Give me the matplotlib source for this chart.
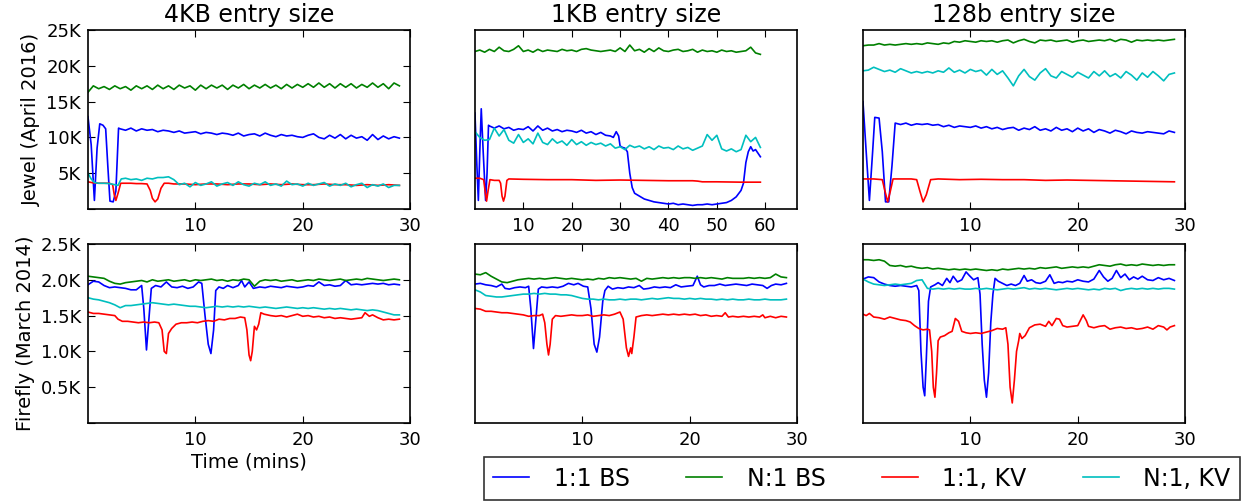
import numpy as np
import matplotlib
matplotlib.use("Agg")
import matplotlib.pyplot as plt
from matplotlib.ticker import FuncFormatter

# all throughput values are in thousands (K) of ops, time in minutes
COLS = ["4KB entry size", "1KB entry size", "128b entry size"]
ROWS = ["Jewel (April 2016)", "Firefly (March 2014)"]
LABELS = ["1:1 BS", "N:1 BS", "1:1, KV", "N:1, KV"]
COLORS = ["b", "g", "r", "c"]

# ---------------- Jewel, 4KB ----------------
J4_GREEN = [  # every 0.5 min from 0
    16.3, 17.2, 16.8, 17.1, 16.7, 17.2, 16.8, 17.1, 16.6, 17.2,
    16.8, 17.2, 16.7, 17.3, 16.8, 17.2, 16.7, 17.3, 16.9, 17.2,
    16.6, 17.3, 16.8, 17.3, 16.9, 17.3, 16.7, 17.3, 16.9, 17.4,
    16.8, 17.3, 16.9, 17.4, 16.9, 17.3, 16.8, 17.4, 16.9, 17.4,
    17.0, 17.5, 17.0, 17.6, 17.0, 17.5, 16.9, 17.5, 17.0, 17.5,
    16.9, 17.4, 17.0, 17.6, 17.0, 17.5, 16.8, 17.6, 17.2,
]
J4_BLUE_HEAD = [(0, 12.9), (0.3, 9.0), (0.6, 1.2), (0.85, 8.5), (1.1, 11.9), (1.4, 11.7),
                (1.65, 11.2), (1.85, 6.0), (2.05, 1.1), (2.35, 1.0), (2.6, 2.5), (2.85, 11.3)]
J4_BLUE = [  # every 0.5 min from 3.0
    11.2, 11.0, 11.3, 10.9, 11.2, 11.0, 11.1, 10.8, 11.0, 10.9,
    10.7, 10.9, 10.6, 10.7, 10.8, 10.5, 10.7, 10.6, 10.4, 10.6,
    10.5, 10.3, 10.6, 10.2, 10.4, 10.5, 10.2, 10.6, 10.3, 10.1,
    10.4, 10.2, 10.3, 10.1, 10.0, 10.3, 10.5, 10.0, 9.8, 10.3,
    9.9, 10.4, 9.8, 10.3, 9.9, 10.1, 9.6, 10.4, 9.7, 10.2,
    9.8, 10.1, 9.9,
]
J4_RED = [(0, 3.8), (0.5, 3.65), (1, 3.6), (1.5, 3.6), (2.0, 3.6), (2.3, 3.4), (2.45, 2.0),
          (2.6, 1.2), (2.8, 2.2), (3.05, 3.6), (3.5, 3.6), (4, 3.6), (4.5, 3.55), (5, 3.55),
          (5.5, 3.5), (5.8, 2.6), (6.0, 1.5), (6.25, 1.0), (6.5, 1.4), (6.8, 2.9), (7.1, 3.6),
          (7.5, 3.6), (8, 3.5), (9, 3.5), (10, 3.4), (11, 3.5), (12, 3.5), (13, 3.4), (14, 3.5),
          (15, 3.5), (16, 3.4), (17, 3.5), (18, 3.4), (19, 3.5), (20, 3.4), (21, 3.4), (22, 3.5),
          (23, 3.4), (24, 3.4), (25, 3.3), (26, 3.4), (27, 3.3), (28, 3.4), (29, 3.3)]
J4_CYAN_HEAD = [(0, 5.0), (0.3, 4.2), (0.6, 3.7), (1.0, 3.6), (1.5, 3.6), (2.0, 3.55),
                (2.5, 3.4), (2.8, 3.3), (3.1, 4.2), (3.5, 4.3), (4.0, 4.1), (4.5, 4.2),
                (5.0, 4.0), (5.5, 4.3), (6.0, 4.2), (6.5, 4.4), (7.0, 4.4), (7.5, 4.5)]
J4_CYAN = [  # every 0.5 min from 8.0
    4.1, 3.4, 3.6, 3.1, 3.7, 3.3, 3.5, 3.8, 3.2, 3.5,
    3.7, 3.3, 3.8, 3.4, 3.2, 3.6, 3.4, 3.8, 3.3, 3.5,
    3.2, 3.9, 3.4, 3.5, 3.2, 3.6, 3.3, 3.5, 3.7, 3.2,
    3.5, 3.3, 3.6, 3.1, 3.4, 3.6, 3.0, 3.4, 3.2, 3.5,
    3.0, 3.3, 3.3,
]

# ---------------- Jewel, 1KB ----------------
J1_GREEN = [  # every 1 min from 0
    22.0, 22.2, 21.9, 22.3, 22.0, 22.6, 22.1, 22.0, 22.3, 22.8,
    22.0, 22.2, 21.9, 22.3, 22.0, 22.2, 22.1, 22.0, 22.3, 22.1,
    22.2, 22.0, 22.3, 22.4, 22.2, 22.1, 22.0, 22.1, 22.2, 22.0,
    22.5, 22.0, 22.9, 22.1, 22.3, 21.9, 22.4, 22.0, 22.5, 22.1,
    22.0, 22.2, 22.3, 22.0, 22.1, 22.3, 21.9, 22.2, 22.0, 22.1,
    21.9, 22.2, 22.0, 22.1, 21.9, 22.0, 22.1, 22.6, 21.8, 21.6,
]
J1_BLUE = [(0, 13.4), (0.4, 6.0), (0.7, 1.2), (1.0, 8.0), (1.3, 14.0), (1.7, 8.0), (2.2, 1.2),
           (2.5, 5.0), (2.8, 11.7), (3, 11.6), (4, 11.3), (5, 11.6), (6, 11.2), (7, 11.4),
           (8, 11.0), (9, 11.2), (10, 11.1), (11, 11.5), (12, 10.9), (13, 11.6), (14, 11.0),
           (15, 11.3), (16, 10.9), (17, 11.1), (18, 10.8), (19, 11.0), (20, 10.9), (21, 10.7),
           (22, 11.0), (23, 10.6), (24, 10.8), (25, 10.4), (26, 10.7), (27, 10.3), (28, 10.2),
           (28.6, 10.0), (29.2, 10.8), (29.7, 10.2), (30, 8.8), (30.5, 8.6), (31, 8.5),
           (31.5, 8.0), (32, 5.0), (32.5, 3.0), (33, 2.2), (34, 1.8), (35, 1.4), (36, 1.2),
           (37, 1.0), (38, 0.9), (39, 0.8), (40, 0.7), (41, 0.8), (42, 0.6), (43, 0.7),
           (44, 0.6), (45, 0.5), (46, 0.6), (47, 0.6), (48, 0.7), (49, 0.6), (50, 0.7),
           (51, 0.8), (52, 0.9), (53, 1.2), (54, 1.7), (55, 2.6), (55.5, 3.6), (56, 6.5),
           (56.5, 8.0), (57, 8.7), (57.5, 8.1), (58, 8.3), (58.5, 7.8), (59, 7.3)]
J1_RED = [(0, 4.3), (1.0, 4.3), (1.8, 4.1), (2.1, 2.5), (2.4, 1.1), (2.7, 2.5), (3.1, 4.1),
          (4, 4.0), (5, 4.0), (5.3, 3.6), (5.6, 1.8), (5.9, 1.1), (6.2, 1.8), (6.6, 4.0),
          (7, 4.2), (10, 4.15), (15, 4.1), (20, 4.1), (25, 4.0), (30, 4.05), (35, 4.0),
          (40, 3.95), (45, 3.95), (46, 3.9), (47, 3.8), (50, 3.8), (55, 3.75), (59, 3.75)]
J1_CYAN = [  # every 1 min from 0
    10.8, 10.0, 9.6, 9.7, 11.3, 10.2, 11.1, 9.6, 9.2, 10.4,
    9.3, 9.8, 9.1, 10.6, 9.3, 9.0, 9.8, 9.2, 9.5, 8.9,
    9.7, 9.0, 9.4, 8.9, 9.3, 9.0, 9.2, 8.8, 9.1, 8.5,
    8.7, 8.3, 8.9, 8.6, 8.8, 8.4, 8.7, 8.3, 8.8, 8.5,
    8.6, 8.3, 8.8, 8.4, 8.6, 8.2, 8.5, 8.8, 10.4, 9.6,
    10.3, 8.4, 8.1, 8.4, 8.0, 8.3, 10.3, 9.4, 10.0, 8.6,
]

# ---------------- Jewel, 128b ----------------
J128_GREEN = [  # every 0.5 min from 0
    22.8, 22.9, 22.9, 23.1, 22.9, 23.0, 22.9, 23.0, 23.1, 23.0,
    23.1, 23.0, 23.2, 23.1, 23.0, 23.2, 23.1, 23.4, 23.3, 23.5,
    23.4, 23.3, 23.5, 23.4, 23.5, 23.3, 23.5, 23.6, 23.2, 23.5,
    23.7, 23.4, 23.2, 23.6, 23.5, 23.6, 23.4, 23.5, 23.6, 23.3,
    23.5, 23.6, 23.4, 23.5, 23.6, 23.5, 23.7, 23.4, 23.7, 23.6,
    23.3, 23.6, 23.5, 23.6, 23.5, 23.6, 23.5, 23.6, 23.7,
]
J128_CYAN = [  # every 0.5 min from 0
    19.3, 19.4, 19.8, 19.5, 19.2, 19.4, 19.1, 19.6, 19.3, 19.0,
    19.2, 19.0, 19.2, 19.0, 19.3, 19.1, 19.7, 19.1, 19.4, 19.0,
    19.5, 19.2, 19.4, 18.7, 19.5, 18.8, 19.3, 18.3, 17.2, 18.6,
    19.5, 18.5, 18.0, 19.0, 19.6, 18.6, 18.3, 19.2, 18.8, 18.4,
    19.1, 18.7, 18.3, 19.2, 18.6, 19.3, 18.5, 18.9, 18.3, 19.2,
    18.7, 18.0, 19.0, 18.4, 19.2, 18.6, 17.9, 18.8, 19.0,
]
J128_BLUE_HEAD = [(0, 15.0), (0.3, 8.0), (0.6, 1.2), (0.9, 8.0), (1.1, 12.8), (1.5, 12.7),
                  (1.8, 8.0), (2.1, 1.0), (2.4, 1.0), (2.7, 6.0)]
J128_BLUE = [  # every 0.5 min from 3.0
    12.0, 11.8, 12.0, 11.7, 11.9, 11.8, 11.9, 11.7, 11.8, 11.5,
    11.7, 11.4, 11.6, 11.5, 11.4, 11.6, 11.3, 11.5, 11.2, 11.4,
    11.1, 11.3, 11.4, 11.0, 11.3, 11.1, 11.5, 11.0, 11.2, 10.9,
    11.4, 11.0, 11.2, 10.8, 11.3, 10.9, 11.2, 10.7, 11.1, 10.9,
    10.6, 11.0, 10.8, 10.5, 10.9, 10.7, 10.6, 10.8, 10.7, 10.6,
    10.5, 10.9, 10.7,
]
J128_RED = [(0, 4.2), (1.0, 4.2), (1.8, 4.1), (2.05, 2.5), (2.3, 1.0), (2.55, 2.5), (2.8, 4.2),
            (3.5, 4.2), (4.5, 4.2), (5.0, 4.1), (5.3, 2.5), (5.6, 1.0), (5.9, 2.0), (6.3, 4.1),
            (7, 4.2), (9, 4.1), (11, 4.15), (13, 4.1), (15, 4.1), (17, 4.0), (19, 4.05),
            (21, 4.0), (23, 3.95), (25, 3.9), (27, 3.85), (29, 3.8)]

# ---------------- Firefly, 4KB ----------------
F4_GREEN = [  # every 0.5 min from 0
    2.05, 2.04, 2.03, 2.02, 1.98, 1.95, 1.94, 1.96, 1.97, 1.98,
    1.99, 1.97, 2.00, 1.98, 1.99, 2.00, 1.98, 1.99, 2.00, 1.98,
    2.00, 1.99, 2.00, 2.01, 1.99, 2.00, 1.98, 2.00, 1.99, 2.01,
    2.00, 1.91, 1.98, 2.00, 1.99, 2.00, 1.98, 1.99, 2.00, 1.98,
    1.99, 2.00, 1.99, 2.01, 2.00, 1.99, 2.00, 2.01, 1.99, 2.00,
    2.01, 2.00, 2.02, 2.01, 2.00, 1.99, 2.00, 2.01, 2.00,
]
F4_BLUE = [(0, 1.93), (0.5, 1.98), (1, 1.97), (1.5, 1.92), (2, 1.89), (2.5, 1.90), (3, 1.89),
           (3.5, 1.88), (4, 1.86), (4.5, 1.86), (5, 1.92), (5.2, 1.6), (5.45, 1.02), (5.7, 1.5),
           (5.9, 1.88), (6.3, 1.92), (6.8, 1.90), (7.3, 1.97), (7.8, 1.90), (8.3, 1.89),
           (8.8, 1.91), (9.3, 1.88), (9.8, 1.90), (10.3, 1.97), (10.6, 1.95), (10.9, 1.5),
           (11.2, 1.1), (11.45, 0.97), (11.7, 1.3), (11.9, 1.85), (12.2, 1.9), (12.6, 1.88),
           (13, 1.92), (13.5, 1.89), (14, 1.92), (14.3, 1.99), (14.6, 1.9), (15, 1.97),
           (15.4, 1.88), (16, 1.90), (16.5, 1.89), (17, 1.91), (17.5, 1.90), (18, 1.89),
           (18.5, 1.91), (19, 1.90), (19.5, 1.89), (20, 1.90), (20.5, 1.92), (21, 1.91),
           (21.5, 1.97), (22, 1.92), (22.5, 1.93), (23, 1.91), (23.5, 1.92), (24, 1.99),
           (24.5, 1.93), (25, 1.94), (25.5, 1.93), (26, 1.94), (26.5, 1.95), (27, 1.94),
           (27.5, 1.95), (28, 1.93), (28.5, 1.94), (29, 1.93)]
F4_RED = [(0, 1.55), (0.5, 1.53), (1, 1.53), (1.5, 1.52), (2, 1.51), (2.5, 1.50), (2.8, 1.45),
          (3.2, 1.42), (3.7, 1.42), (4.2, 1.41), (4.7, 1.40), (5.2, 1.41), (5.7, 1.40),
          (6.2, 1.41), (6.6, 1.40), (6.9, 1.3), (7.1, 1.0), (7.3, 0.97), (7.5, 1.25),
          (7.8, 1.32), (8.2, 1.38), (8.7, 1.40), (9.2, 1.40), (9.7, 1.41), (10.2, 1.40),
          (10.7, 1.42), (11.2, 1.43), (11.7, 1.42), (12.2, 1.45), (12.7, 1.44), (13.2, 1.46),
          (13.7, 1.46), (14.2, 1.48), (14.6, 1.47), (14.8, 1.3), (15.0, 0.95), (15.15, 0.87),
          (15.3, 1.0), (15.5, 1.35), (15.7, 1.30), (15.9, 1.38), (16.1, 1.54), (16.4, 1.52),
          (17, 1.50), (17.5, 1.49), (18, 1.50), (18.5, 1.48), (19, 1.50), (19.5, 1.52),
          (20, 1.49), (20.5, 1.50), (21, 1.48), (21.5, 1.49), (22, 1.47), (22.5, 1.48),
          (23, 1.46), (23.5, 1.47), (24, 1.46), (24.5, 1.45), (25, 1.46), (25.5, 1.47),
          (25.8, 1.54), (26.2, 1.49), (26.5, 1.51), (27, 1.47), (27.5, 1.44), (28, 1.45),
          (28.5, 1.44), (29, 1.45)]
F4_CYAN = [  # every 0.5 min from 0
    1.75, 1.73, 1.72, 1.70, 1.68, 1.65, 1.61, 1.64, 1.64, 1.65,
    1.66, 1.67, 1.68, 1.67, 1.66, 1.65, 1.66, 1.65, 1.64, 1.63,
    1.63, 1.62, 1.61, 1.62, 1.63, 1.62, 1.63, 1.62, 1.63, 1.62,
    1.63, 1.62, 1.61, 1.62, 1.61, 1.60, 1.61, 1.62, 1.61, 1.60,
    1.61, 1.60, 1.61, 1.60, 1.59, 1.60, 1.59, 1.60, 1.59, 1.58,
    1.59, 1.58, 1.57, 1.58, 1.57, 1.55, 1.53, 1.51, 1.51,
]

# ---------------- Firefly, 1KB ----------------
F1_GREEN = [  # every 0.5 min from 0
    2.08, 2.07, 2.10, 2.05, 2.01, 1.97, 1.96, 1.98, 2.00, 2.01,
    2.02, 2.01, 2.02, 2.01, 2.02, 2.03, 2.02, 2.01, 2.02, 2.01,
    2.00, 2.01, 2.00, 2.02, 2.01, 2.03, 2.02, 2.03, 2.02, 2.01,
    2.02, 1.98, 2.02, 2.01, 2.02, 2.03, 2.02, 2.03, 2.02, 2.03,
    2.03, 2.02, 2.03, 2.02, 2.03, 2.02, 2.01, 2.03, 2.02, 2.02,
    2.02, 2.03, 2.02, 2.03, 2.02, 2.03, 2.08, 2.04, 2.03,
]
F1_BLUE = [(0, 1.94), (0.5, 1.95), (1, 1.93), (1.5, 1.92), (2, 1.90), (2.5, 1.94), (2.8, 1.88),
           (3.2, 1.87), (3.7, 1.89), (4.2, 1.90), (4.7, 1.89), (5.0, 1.91), (5.2, 1.6),
           (5.45, 1.04), (5.7, 1.5), (5.9, 1.87), (6.2, 1.90), (6.7, 1.89), (7.2, 1.90),
           (7.7, 1.89), (8.2, 1.91), (8.7, 1.95), (9.2, 1.93), (9.6, 1.95), (10.1, 1.91),
           (10.5, 1.90), (10.8, 1.6), (11.1, 1.1), (11.35, 0.99), (11.6, 1.2), (11.9, 1.7),
           (12.1, 1.85), (12.4, 1.91), (12.8, 1.87), (13.3, 1.89), (13.8, 1.88), (14.3, 1.90),
           (14.8, 1.89), (15.3, 1.92), (15.7, 1.87), (16.2, 1.88), (16.7, 1.90), (17.2, 1.89),
           (17.7, 1.90), (18.2, 1.89), (18.7, 1.93), (19.2, 1.90), (19.7, 1.91), (20.3, 1.92),
           (20.7, 2.05), (21.0, 1.93), (21.3, 1.90), (21.8, 1.92), (22.3, 1.92), (22.8, 1.94),
           (23.3, 1.92), (23.8, 1.93), (24.3, 1.94), (24.8, 1.93), (25.3, 1.92), (25.8, 1.94),
           (26.3, 1.93), (26.8, 1.92), (27.2, 1.88), (27.6, 1.92), (28.0, 1.94), (28.5, 1.93),
           (29, 1.95)]
F1_RED = [(0, 1.60), (0.5, 1.59), (1, 1.56), (1.5, 1.56), (2, 1.55), (2.5, 1.54), (3, 1.54),
          (3.5, 1.53), (4, 1.52), (4.5, 1.51), (5, 1.49), (5.5, 1.50), (6, 1.50), (6.3, 1.52),
          (6.5, 1.4), (6.7, 1.1), (6.85, 0.95), (7.0, 1.1), (7.2, 1.45), (7.5, 1.50),
          (8, 1.49), (8.5, 1.50), (9, 1.51), (9.5, 1.50), (10, 1.50), (10.5, 1.51), (11, 1.49),
          (11.5, 1.50), (12, 1.51), (12.5, 1.50), (13, 1.52), (13.5, 1.55), (13.8, 1.45),
          (14.1, 1.05), (14.3, 0.93), (14.5, 1.05), (14.6, 0.97), (14.8, 1.2), (15.0, 1.48),
          (15.5, 1.50), (16, 1.51), (16.5, 1.50), (17, 1.51), (17.5, 1.52), (18, 1.51),
          (18.5, 1.52), (19, 1.51), (19.5, 1.52), (20, 1.51), (20.5, 1.52), (21, 1.50),
          (21.5, 1.51), (22, 1.49), (22.5, 1.50), (23, 1.49), (23.3, 1.54), (23.6, 1.48),
          (24, 1.49), (24.5, 1.48), (25, 1.49), (25.5, 1.48), (26, 1.49), (26.5, 1.48),
          (26.8, 1.51), (27, 1.47), (27.5, 1.49), (28, 1.47), (28.5, 1.49), (29, 1.48)]
F1_CYAN = [  # every 0.5 min from 0
    1.86, 1.83, 1.78, 1.77, 1.76, 1.76, 1.77, 1.78, 1.79, 1.80,
    1.80, 1.81, 1.80, 1.81, 1.80, 1.80, 1.79, 1.79, 1.78, 1.76,
    1.74, 1.73, 1.73, 1.72, 1.73, 1.72, 1.72, 1.73, 1.72, 1.73,
    1.73, 1.72, 1.73, 1.74, 1.73, 1.74, 1.75, 1.74, 1.74, 1.73,
    1.74, 1.73, 1.74, 1.73, 1.73, 1.72, 1.73, 1.72, 1.73, 1.72,
    1.72, 1.73, 1.72, 1.72, 1.73, 1.72, 1.72, 1.72, 1.73,
]

# ---------------- Firefly, 128b ----------------
F128_GREEN = [  # every 0.5 min from 0
    2.28, 2.28, 2.27, 2.28, 2.26, 2.20, 2.19, 2.20, 2.18, 2.19,
    2.17, 2.16, 2.17, 2.15, 2.16, 2.15, 2.14, 2.15, 2.14, 2.15,
    2.14, 2.15, 2.14, 2.13, 2.14, 2.13, 2.15, 2.14, 2.15, 2.16,
    2.15, 2.16, 2.15, 2.17, 2.16, 2.17, 2.18, 2.16, 2.17, 2.18,
    2.17, 2.18, 2.17, 2.19, 2.21, 2.20, 2.19, 2.21, 2.22, 2.20,
    2.21, 2.20, 2.22, 2.21, 2.20, 2.21, 2.20, 2.21, 2.21,
]
F128_BLUE = [(0, 2.01), (0.5, 2.04), (1, 2.03), (1.5, 1.97), (2, 1.94), (2.5, 1.92), (3, 1.91),
             (3.5, 1.92), (4, 1.91), (4.5, 1.90), (5, 1.92), (5.2, 1.85), (5.4, 1.0), (5.6, 0.50),
             (5.75, 0.38), (5.9, 0.9), (6.1, 1.7), (6.3, 1.90), (6.7, 1.93), (7.0, 1.96),
             (7.4, 1.92), (7.8, 2.02), (8.1, 1.96), (8.4, 2.05), (8.8, 1.97), (9.2, 2.00),
             (9.6, 2.11), (9.9, 2.06), (10.3, 2.00), (10.7, 2.03), (10.9, 1.8), (11.1, 1.1),
             (11.3, 0.6), (11.5, 0.36), (11.7, 0.7), (11.9, 1.4), (12.1, 1.8), (12.3, 2.02),
             (12.6, 1.98), (13, 1.95), (13.4, 1.92), (13.8, 1.94), (14.2, 1.92), (14.6, 1.95),
             (15, 2.06), (15.3, 1.98), (15.7, 2.00), (16.1, 1.96), (16.5, 1.95), (17, 1.98),
             (17.4, 2.07), (17.8, 1.95), (18.2, 1.97), (18.6, 1.96), (19, 1.98), (19.5, 1.97),
             (20, 2.00), (20.5, 1.98), (21, 1.97), (21.5, 2.01), (22, 2.13), (22.4, 2.04),
             (22.8, 1.98), (23.2, 2.02), (23.6, 2.13), (24, 2.03), (24.4, 2.08), (24.8, 2.00),
             (25.2, 2.04), (25.6, 2.01), (26, 2.05), (26.5, 2.00), (27, 1.99), (27.5, 2.03),
             (28, 2.00), (28.5, 2.02), (29, 1.99)]
F128_RED = [(0, 1.52), (0.3, 1.50), (0.6, 1.53), (1, 1.48), (1.5, 1.47), (2, 1.45), (2.5, 1.48),
            (3, 1.46), (3.5, 1.44), (4, 1.43), (4.4, 1.41), (4.8, 1.36), (5.2, 1.32),
            (5.6, 1.30), (6.0, 1.31), (6.2, 1.30), (6.4, 1.0), (6.55, 0.5), (6.7, 0.36),
            (6.85, 0.7), (7.0, 1.15), (7.2, 1.2), (7.6, 1.22), (8.0, 1.26), (8.3, 1.28),
            (8.6, 1.46), (8.9, 1.42), (9.2, 1.28), (9.6, 1.26), (10, 1.25), (10.5, 1.26),
            (11, 1.25), (11.5, 1.27), (12, 1.29), (12.5, 1.32), (13, 1.31), (13.3, 1.33),
            (13.5, 1.1), (13.7, 0.5), (13.9, 0.28), (14.1, 0.6), (14.3, 1.0), (14.5, 1.15),
            (14.6, 1.25), (14.8, 1.18), (15.1, 1.22), (15.5, 1.33), (16, 1.37), (16.5, 1.38),
            (17, 1.35), (17.3, 1.42), (17.6, 1.36), (18.0, 1.46), (18.3, 1.45), (18.6, 1.36),
            (19, 1.34), (19.5, 1.35), (20, 1.36), (20.5, 1.51), (20.8, 1.43), (21.0, 1.35),
            (21.5, 1.33), (22, 1.35), (22.5, 1.36), (23, 1.31), (23.5, 1.33), (24, 1.34),
            (24.5, 1.32), (25, 1.33), (25.5, 1.31), (26, 1.32), (26.5, 1.34), (27, 1.31),
            (27.5, 1.36), (28, 1.34), (28.3, 1.30), (28.6, 1.34), (29, 1.36)]
F128_CYAN = [  # every 0.5 min from 0
    2.01, 1.97, 1.94, 1.93, 1.92, 1.93, 1.94, 1.93, 1.94, 1.95,
    1.99, 2.00, 1.88, 1.87, 1.88, 1.87, 1.88, 1.87, 1.88, 1.87,
    1.87, 1.88, 1.87, 1.88, 1.87, 1.86, 1.87, 1.88, 1.87, 1.88,
    1.89, 1.87, 1.88, 1.87, 1.88, 1.87, 1.86, 1.87, 1.88, 1.87,
    1.88, 1.87, 1.86, 1.87, 1.86, 1.88, 1.87, 1.88, 1.85, 1.87,
    1.88, 1.87, 1.88, 1.87, 1.88, 1.87, 1.88, 1.88, 1.87,
]


def grid(vals, t0=0.0, step=0.5):
    """uniformly sampled series -> (t, v)"""
    return t0 + step * np.arange(len(vals)), np.array(vals)


def pairs(pts):
    a = np.array(pts)
    return a[:, 0], a[:, 1]


def joined(head, vals, t0, step=0.5):
    ht, hv = pairs(head)
    gt, gv = grid(vals, t0, step)
    return np.concatenate([ht, gt]), np.concatenate([hv, gv])


# series per panel, in legend order: 1:1 BS, N:1 BS, 1:1 KV, N:1 KV
PANELS = [
    [joined(J4_BLUE_HEAD, J4_BLUE, 3.0), grid(J4_GREEN), pairs(J4_RED),
     joined(J4_CYAN_HEAD, J4_CYAN, 8.0)],
    [pairs(J1_BLUE), grid(J1_GREEN, 0, 1.0), pairs(J1_RED), grid(J1_CYAN, 0, 1.0)],
    [joined(J128_BLUE_HEAD, J128_BLUE, 3.0), grid(J128_GREEN), pairs(J128_RED), grid(J128_CYAN)],
    [pairs(F4_BLUE), grid(F4_GREEN), pairs(F4_RED), grid(F4_CYAN)],
    [pairs(F1_BLUE), grid(F1_GREEN), pairs(F1_RED), grid(F1_CYAN)],
    [pairs(F128_BLUE), grid(F128_GREEN), pairs(F128_RED), grid(F128_CYAN)],
]

plt.rcParams.update({
    "font.family": "DejaVu Sans",
    "xtick.direction": "in", "ytick.direction": "in",
    "xtick.top": True, "ytick.right": True,
    "xtick.major.size": 5, "ytick.major.size": 5,
    "xtick.labelsize": 13, "ytick.labelsize": 13,
    "axes.linewidth": 1.2,
    "xtick.major.pad": 6, "ytick.major.pad": 5,
})

fig = plt.figure(figsize=(12.44, 5.01), dpi=100)
lefts = [0.0707, 0.3818, 0.6937]
bottoms = [0.5828, 0.1557]
w, h = 0.2590, 0.3573

handles = []
for r in range(2):
    for c in range(3):
        ax = fig.add_axes([lefts[c], bottoms[r], w, h])
        for (t, v), col in zip(PANELS[r * 3 + c], COLORS):
            ln, = ax.plot(t, v, color=col, lw=1.2)
            if r == 0 and c == 0:
                handles.append(ln)
        if r == 0:
            ax.set_title(COLS[c], fontsize=17, pad=6)
            ax.set_ylim(0, 25)
            ax.set_yticks([0, 5, 10, 15, 20, 25])
            ax.yaxis.set_major_formatter(FuncFormatter(lambda v, p: "" if v == 0 else f"{v:.0f}K"))
        else:
            ax.set_ylim(0, 2.5)
            ax.set_yticks([0, 0.5, 1.0, 1.5, 2.0, 2.5])
            ax.yaxis.set_major_formatter(FuncFormatter(lambda v, p: "" if v == 0 else f"{v:.1f}K"))
        if r == 0 and c == 1:
            ax.set_xlim(0, 66.6)
            ax.set_xticks([10, 20, 30, 40, 50, 60])
        else:
            ax.set_xlim(0, 30)
            ax.set_xticks([10, 20, 30])
        if c == 0:
            ax.set_ylabel(ROWS[r], fontsize=14, labelpad=4)
        else:
            ax.set_yticks([])
        if r == 1 and c == 0:
            ax.set_xlabel("Time (mins)", fontsize=14, labelpad=2)

leg = fig.legend(handles, LABELS, loc="lower right", bbox_to_anchor=(0.9968, 0.002),
                 ncol=4, fontsize=17, frameon=True, fancybox=False, handlelength=1.5,
                 handletextpad=1.05, columnspacing=2.4, borderpad=0.4, borderaxespad=0)
leg.get_frame().set_edgecolor("black")
leg.get_frame().set_linewidth(1.2)

fig.savefig("out.png", dpi=100)
